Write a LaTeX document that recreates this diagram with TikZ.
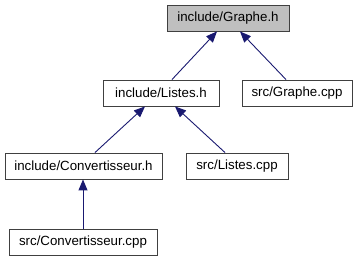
\documentclass[tikz,border=0pt]{standalone}
\usepackage{fontspec}
\setmainfont{Liberation Sans}
\usetikzlibrary{arrows.meta}
\definecolor{edgeblue}{HTML}{191970}
\definecolor{boxline}{HTML}{404040}
\definecolor{focusfill}{HTML}{BFBFBF}
\begin{document}
\begin{tikzpicture}[x=1pt,y=-1pt,
  filebox/.style={draw=boxline, line width=0.9pt, fill=white, inner sep=0pt,
    minimum height=26pt, font=\fontsize{13.3}{15}\selectfont},
  focusbox/.style={filebox, fill=focusfill},
  dep/.style={draw=edgeblue, line width=0.9pt,
    -{Triangle[length=11pt,width=9pt,fill=edgeblue]}}]
\useasboundingbox (0,0) rectangle (357,261);
% header files and sources
\node[focusbox, minimum width=122pt] (g)  at (228,18)   {include/Graphe.h};
\node[filebox,  minimum width=116pt] (l)  at (161,93)   {include/Listes.h};
\node[filebox,  minimum width=110pt] (gc) at (297,93)   {src/Graphe.cpp};
\node[filebox,  minimum width=157pt] (c)  at (83.5,166) {include/Convertisseur.h};
\node[filebox,  minimum width=102pt] (lc) at (237,166)  {src/Listes.cpp};
\node[filebox,  minimum width=148pt] (cc) at (83,242.5) {src/Convertisseur.cpp};
% include dependencies
\draw[dep] ([xshift=11pt]l.north)  -- ([xshift=-11pt]g.south);
\draw[dep] ([xshift=-11pt]gc.north) -- ([xshift=12pt]g.south);
\draw[dep] ([xshift=11.5pt]c.north) -- ([xshift=-16pt]l.south);
\draw[dep] ([xshift=-12pt]lc.north) -- ([xshift=14pt]l.south);
\draw[dep] (cc.north) -- (cc.north |- c.south);
\end{tikzpicture}
\end{document}
